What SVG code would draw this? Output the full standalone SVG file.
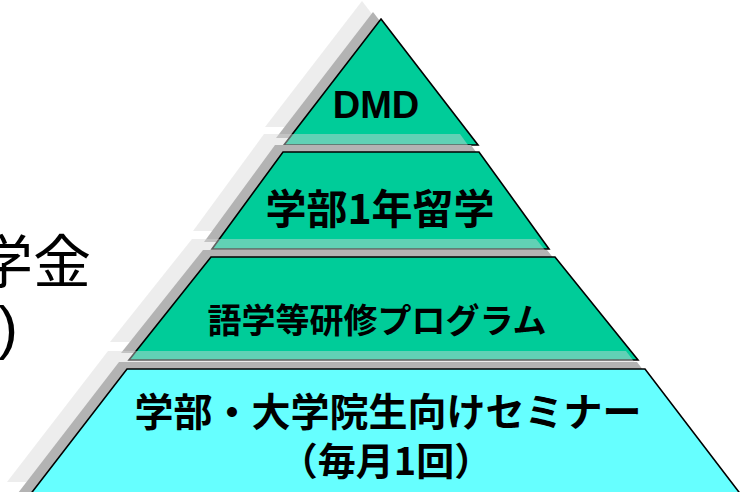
<svg xmlns="http://www.w3.org/2000/svg" xmlns:xlink="http://www.w3.org/1999/xlink" width="750" height="492" viewBox="0 0 750 492">
<style>
.lyr{stroke:#000;stroke-width:1.6;stroke-linejoin:miter}
.grn{fill:#00CC99}
.cyn{fill:#66FFFF}
.sh1{fill:#D8D8D8;opacity:0.45}
.sh2{fill:#B3B3B3}
.lbl{font-family:"Noto Sans CJK JP","Liberation Sans",sans-serif;font-weight:bold;fill:#000;text-anchor:middle}
.side{font-family:"Noto Sans CJK JP","Liberation Sans",sans-serif;font-weight:normal;fill:#000}
</style>
<defs>
<polygon id="p1" points="381,19 478,145 284,145"/>
<polygon id="p2" points="283,152 479,152 549,249 212,249"/>
<polygon id="p3" points="211,257 555,257 638,360 129,360"/>
<polygon id="p4" points="127,369 645,369 745,500 26,500"/>
</defs>
<rect width="750" height="492" fill="#fff"/>
<text class="side" x="91" y="283" font-size="58" text-anchor="end">学金</text>
<text class="side" x="-2" y="348" font-size="60" style="font-family:'Liberation Sans',sans-serif">)</text>
<g id="layer-dmd">
<use xlink:href="#p1" class="sh1" transform="translate(-19,-18)"/>
<use xlink:href="#p1" class="sh2" transform="translate(-8,-7)"/>
<use xlink:href="#p1" class="lyr grn"/>
<text class="lbl" x="376" y="118" font-size="38" style="font-family:'Liberation Sans',sans-serif">DMD</text>
</g>
<g id="layer-study-abroad">
<use xlink:href="#p2" class="sh1" transform="translate(-19,-18)"/>
<use xlink:href="#p2" class="sh2" transform="translate(-8,-7)"/>
<use xlink:href="#p2" class="lyr grn"/>
<text class="lbl" x="380" y="224" font-size="41">学部1年留学</text>
</g>
<g id="layer-language">
<use xlink:href="#p3" class="sh1" transform="translate(-19,-18)"/>
<use xlink:href="#p3" class="sh2" transform="translate(-8,-7)"/>
<use xlink:href="#p3" class="lyr grn"/>
<text class="lbl" x="377" y="333" font-size="34">語学等研修プログラム</text>
</g>
<g id="layer-seminar">
<use xlink:href="#p4" class="sh1" transform="translate(-19,-18)"/>
<use xlink:href="#p4" class="sh2" transform="translate(-8,-7)"/>
<use xlink:href="#p4" class="lyr cyn"/>
<text class="lbl" x="388" y="426" font-size="39">学部・大学院生向けセミナー</text>
<text class="lbl" x="386" y="475" font-size="38">（毎月1回）</text>
</g>
<g id="connectors"/>
</svg>
